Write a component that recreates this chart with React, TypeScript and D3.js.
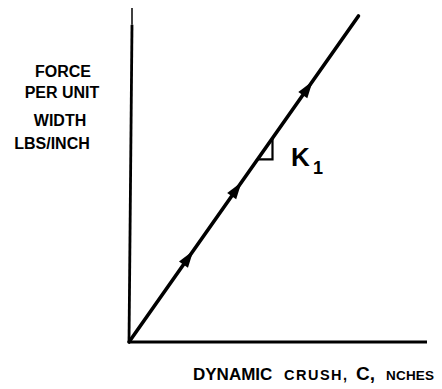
import React from "react";
import * as d3 from "d3";

// Schematic data: dynamic crush (C) vs force per unit width, slope K1
const crush = [0, 7.7];
const force = [0, 9.76];
const arrowFractions = [0.26, 0.47, 0.78];
const slopeMarkFraction = 0.56;
const yLabelLines = ["FORCE", "PER UNIT", "WIDTH", "LBS/INCH"];
const xLabelParts = ["DYNAMIC", "CRUSH,", "C,", "NCHES"];

const W = 442;
const H = 389;
const x = d3.scaleLinear().domain([0, 10]).range([129, 427]);
const y = d3.scaleLinear().domain([0, 10]).range([342, 8]);

const FONT = "'Liberation Sans', Arial, Helvetica, sans-serif";

export default function App() {
  const pts: [number, number][] = crush.map((c, i) => [x(c), y(force[i])]);
  const line = d3.line()(pts) || "";
  const [p0, p1] = pts;
  const dx = p1[0] - p0[0];
  const dy = p1[1] - p0[1];
  const angle = (Math.atan2(dy, dx) * 180) / Math.PI;

  const at = (t: number): [number, number] => [p0[0] + dx * t, p0[1] + dy * t];

  // slope marker triangle
  const sb = at(slopeMarkFraction);
  const tw = 15;
  const corner: [number, number] = [sb[0] + tw, sb[1]];
  const top: [number, number] = [sb[0] + tw, sb[1] + (tw * dy) / dx];
  const tri = d3.line()([sb, corner, top]) || "";

  const yLabelPos = [
    { cx: 63, by: 77 },
    { cx: 62, by: 98 },
    { cx: 60, by: 126 },
    { cx: 52, by: 149 },
  ];

  return (
    <svg
      width={W}
      height={H}
      style={{ position: "absolute", left: 0, top: 0, background: "#fff" }}
    >
      <rect width={W} height={H} fill="#fff" />
      {/* axes */}
      <line x1={x(0)} y1={y(0)} x2={x(0) + 3} y2={y(9.5)} stroke="#000" strokeWidth={2.8} />
      <line x1={x(0) + 3} y1={y(9.5)} x2={x(0) + 3} y2={y(10)} stroke="#000" strokeWidth={1.5} />
      <line x1={x(0)} y1={y(0)} x2={x(10)} y2={y(0)} stroke="#000" strokeWidth={2.8} />
      {/* curve */}
      <path d={line} stroke="#000" strokeWidth={3.6} fill="none" strokeLinecap="round" />
      {arrowFractions.map((t, i) => {
        const [ax, ay] = at(t);
        return (
          <path
            key={i}
            d="M8,0 L-9,-5.5 L-9,5.5 Z"
            fill="#000"
            transform={`translate(${ax},${ay}) rotate(${angle})`}
          />
        );
      })}
      <path d={tri} stroke="#000" strokeWidth={2.2} fill="none" />
      <text x={291} y={166} fontFamily={FONT} fontWeight="bold" fontSize={26}>
        K
      </text>
      <text x={313} y={174} fontFamily={FONT} fontWeight="bold" fontSize={18}>
        1
      </text>
      {/* y label */}
      {yLabelLines.map((s, i) => (
        <text
          key={s}
          x={yLabelPos[i].cx}
          y={yLabelPos[i].by}
          textAnchor="middle"
          fontFamily={FONT}
          fontWeight="bold"
          fontSize={16}
        >
          {s}
        </text>
      ))}
      {/* x label */}
      <text y={380} fontFamily={FONT} fontWeight="bold">
        <tspan x={193} fontSize={17}>{xLabelParts[0]}</tspan>
        <tspan x={284} fontSize={14.5} letterSpacing={1.5}>{xLabelParts[1]}</tspan>
        <tspan x={356} fontSize={19}>{xLabelParts[2]}</tspan>
        <tspan x={386} fontSize={13.5} letterSpacing={0.2}>{xLabelParts[3]}</tspan>
      </text>
    </svg>
  );
}
